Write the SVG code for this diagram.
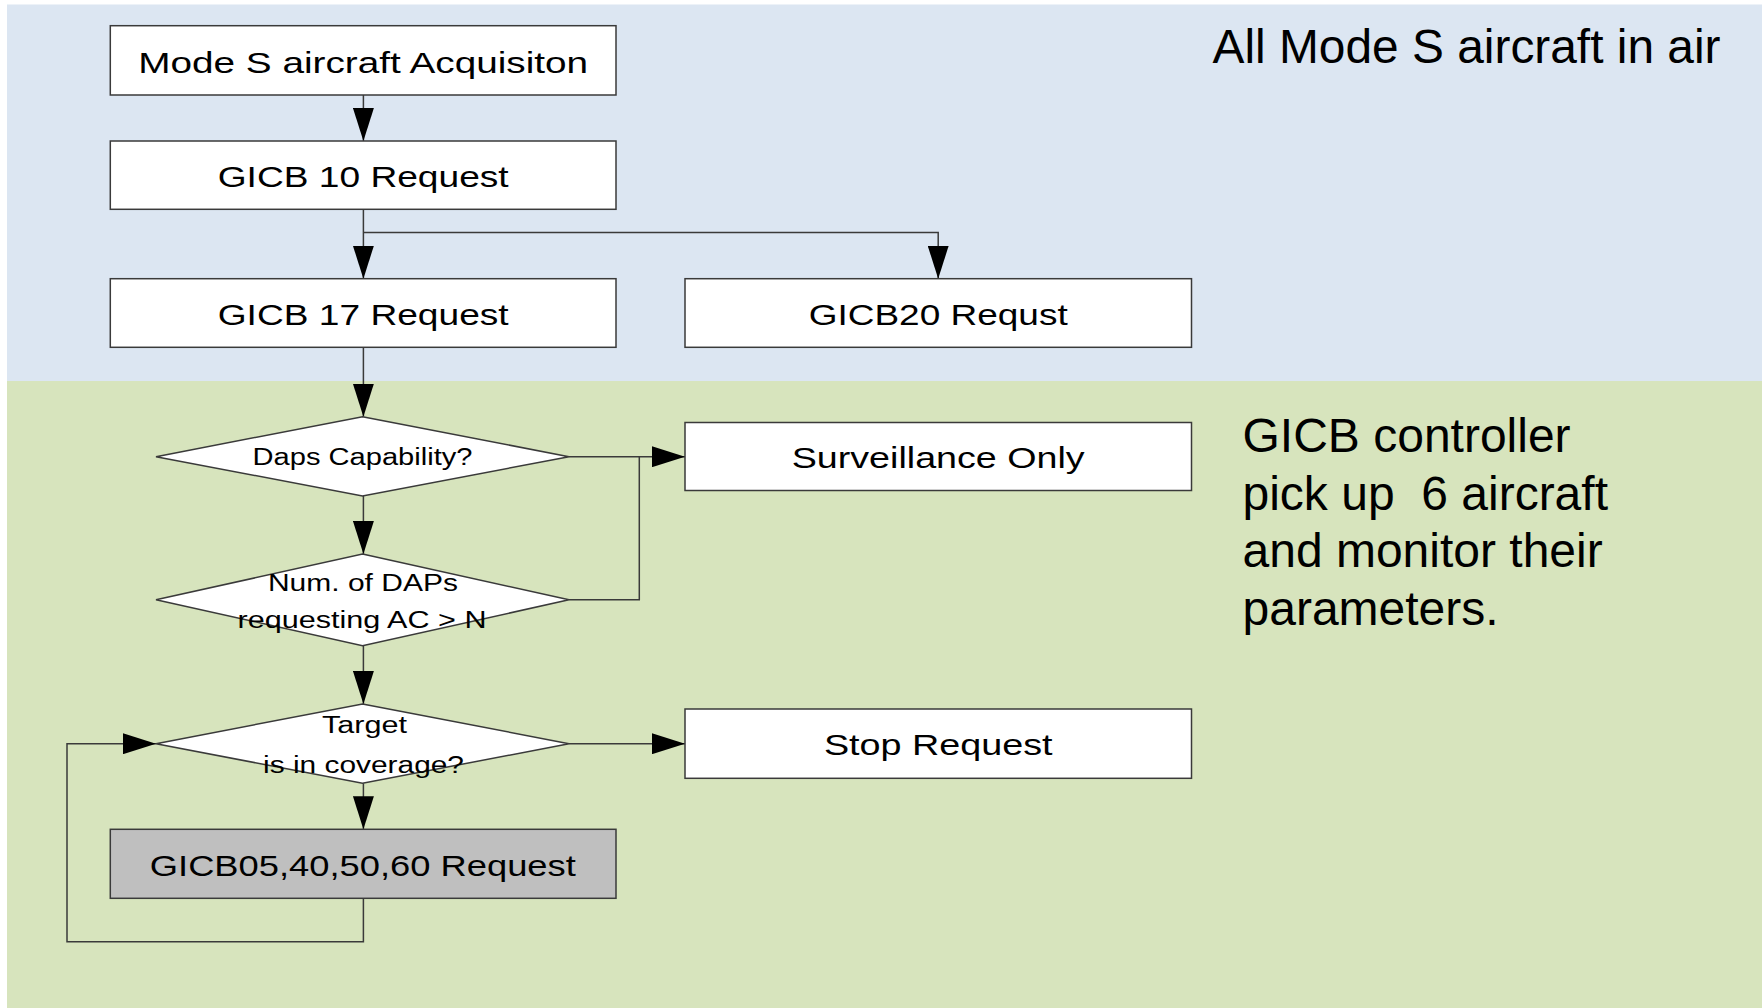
<svg xmlns="http://www.w3.org/2000/svg" width="1762" height="1008" viewBox="0 0 1762 1008">
<style>
.box{fill:#ffffff;stroke:#3a3a3a;stroke-width:1.5}
.gray{fill:#bfbfbf;stroke:#3a3a3a;stroke-width:1.5}
.dia{fill:#ffffff;stroke:#3a3a3a;stroke-width:1.5}
.t{font-family:"Liberation Sans",Arial,sans-serif;font-size:30px;fill:#000;text-anchor:middle}
.td{font-family:"Liberation Sans",Arial,sans-serif;font-size:23.5px;fill:#000;text-anchor:middle}
.big{font-family:"Liberation Sans",Arial,sans-serif;font-size:48px;fill:#000;white-space:pre}
.c{fill:none;stroke:#3a3a3a;stroke-width:1.5}
</style>
<defs>
<marker id="ah" markerUnits="userSpaceOnUse" markerWidth="33" markerHeight="21" refX="33" refY="10.5" orient="auto">
<path d="M0,0 L33,10.5 L0,21 Z" fill="#000"/>
</marker>
</defs>
<rect x="0" y="0" width="1762" height="1008" fill="#ffffff"/>
<rect x="7" y="4.5" width="1755" height="376.5" fill="#dce6f2"/>
<rect x="7" y="381" width="1755" height="627" fill="#d7e4bd"/>
<text class="big" x="1212.5" y="62.5" textLength="508" lengthAdjust="spacingAndGlyphs">All Mode S aircraft in air</text>
<g class="big">
<text x="1242.5" y="452">GICB controller</text>
<text x="1242.5" y="509.5" xml:space="preserve">pick up  6 aircraft</text>
<text x="1242.5" y="567">and monitor their</text>
<text x="1242.5" y="624.5">parameters.</text>
</g>
<g id="connectors">
<path class="c" d="M363.4,95 V141" marker-end="url(#ah)"/>
<path class="c" d="M363.4,209.3 V278.7" marker-end="url(#ah)"/>
<path class="c" d="M363.4,232.5 H938.2 V278.7" marker-end="url(#ah)"/>
<path class="c" d="M363.4,347.3 V416.7" marker-end="url(#ah)"/>
<path class="c" d="M569,456.7 H685" marker-end="url(#ah)"/>
<path class="c" d="M363.4,496 V554" marker-end="url(#ah)"/>
<path class="c" d="M569,599.8 H639.3 V456.7"/>
<path class="c" d="M363.4,645.7 V704" marker-end="url(#ah)"/>
<path class="c" d="M569,743.7 H685" marker-end="url(#ah)"/>
<path class="c" d="M363.4,783.3 V829.3" marker-end="url(#ah)"/>
<path class="c" d="M363.4,898.3 V941.7 H67 V743.7 H156" marker-end="url(#ah)"/>
</g>
<g id="n-acq">
<rect class="box" x="110.3" y="25.7" width="505.7" height="69.3"/>
<text class="t" x="363.2" y="72.7" textLength="450" lengthAdjust="spacingAndGlyphs">Mode S aircraft Acquisiton</text>
</g>
<g id="n-gicb10">
<rect class="box" x="110.3" y="141" width="505.7" height="68.3"/>
<text class="t" x="363.2" y="186.7" textLength="291" lengthAdjust="spacingAndGlyphs">GICB 10 Request</text>
</g>
<g id="n-gicb17">
<rect class="box" x="110.3" y="278.7" width="505.7" height="68.6"/>
<text class="t" x="363.2" y="324.5" textLength="291" lengthAdjust="spacingAndGlyphs">GICB 17 Request</text>
</g>
<g id="n-gicb20">
<rect class="box" x="685" y="278.7" width="506.5" height="68.6"/>
<text class="t" x="938.2" y="324.5" textLength="259" lengthAdjust="spacingAndGlyphs">GICB20 Requst</text>
</g>
<g id="n-daps">
<polygon class="dia" points="362.5,416.7 569,456.7 362.5,496 156,456.7"/>
<text class="td" x="362.5" y="465" textLength="220" lengthAdjust="spacingAndGlyphs">Daps Capability?</text>
</g>
<g id="n-surv">
<rect class="box" x="685" y="422.5" width="506.5" height="68"/>
<text class="t" x="938.2" y="467.7" textLength="293" lengthAdjust="spacingAndGlyphs">Surveillance Only</text>
</g>
<g id="n-num">
<polygon class="dia" points="362.5,554 569,599.8 362.5,645.7 156,599.8"/>
<text class="td" x="362.9" y="590.7" textLength="190" lengthAdjust="spacingAndGlyphs">Num. of DAPs</text>
<text class="td" x="362" y="628.3" textLength="249" lengthAdjust="spacingAndGlyphs">requesting AC &gt; N</text>
</g>
<g id="n-target">
<polygon class="dia" points="362.5,704 569,743.7 362.5,783.3 156,743.7"/>
<text class="td" x="364.5" y="733.3" textLength="85" lengthAdjust="spacingAndGlyphs">Target</text>
<text class="td" x="363.5" y="773.3" textLength="201" lengthAdjust="spacingAndGlyphs">is in coverage?</text>
</g>
<g id="n-stop">
<rect class="box" x="685" y="709" width="506.5" height="69.3"/>
<text class="t" x="938.2" y="755.3" textLength="228.6" lengthAdjust="spacingAndGlyphs">Stop Request</text>
</g>
<g id="n-gicb05">
<rect class="gray" x="110.3" y="829.3" width="505.7" height="69"/>
<text class="t" x="362.8" y="875.5" textLength="426" lengthAdjust="spacingAndGlyphs">GICB05,40,50,60 Request</text>
</g>
</svg>
